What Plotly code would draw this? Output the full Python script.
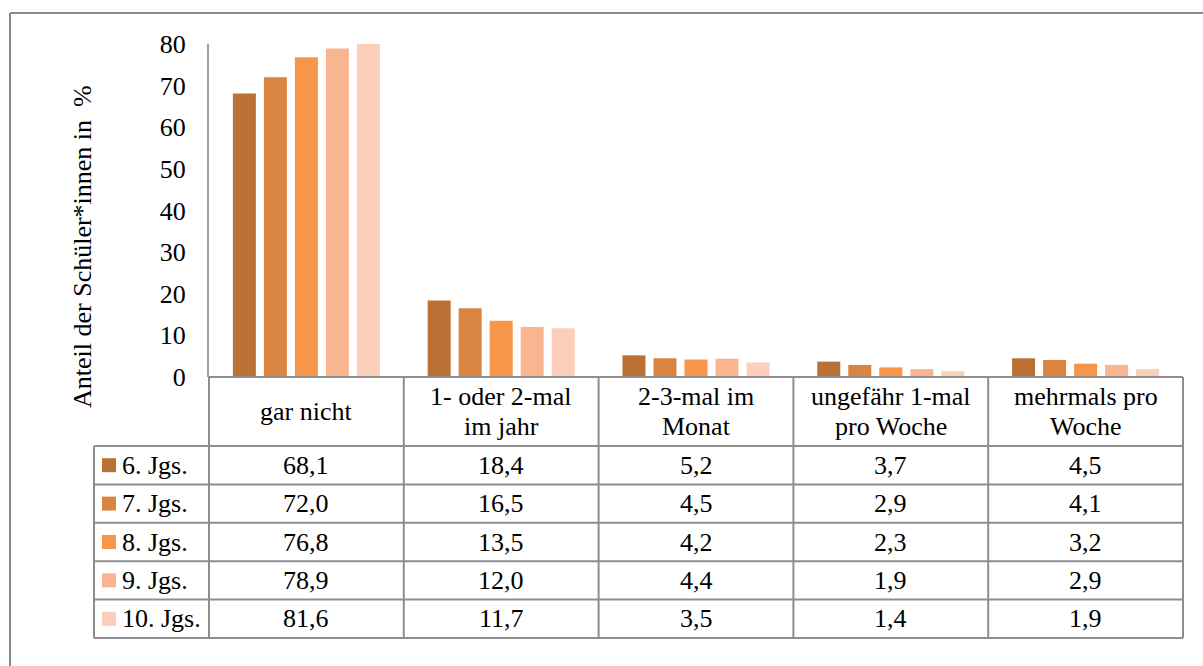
import plotly.graph_objects as go

categories = ["gar nicht", "1- oder 2-mal<br>im jahr", "2-3-mal im<br>Monat",
              "ungefähr 1-mal<br>pro Woche", "mehrmals pro<br>Woche"]
series_names = ["6. Jgs.", "7. Jgs.", "8. Jgs.", "9. Jgs.", "10. Jgs."]
jgs6 = [68.1, 18.4, 5.2, 3.7, 4.5]
jgs7 = [72.0, 16.5, 4.5, 2.9, 4.1]
jgs8 = [76.8, 13.5, 4.2, 2.3, 3.2]
jgs9 = [78.9, 12.0, 4.4, 1.9, 2.9]
jgs10 = [81.6, 11.7, 3.5, 1.4, 1.9]
series_values = [jgs6, jgs7, jgs8, jgs9, jgs10]
colors = ["#B97234", "#DA8442", "#F79648", "#F9B58F", "#FBCFB9"]
y_ticks = [0, 10, 20, 30, 40, 50, 60, 70, 80]
y_title = "Anteil der Schüler*innen in \u00a0%"

W, H = 1203, 666
FONT = "Liberation Serif, Times New Roman, serif"
FS = 26
GRID = "#8E8E8E"


def px(x):
    return x / W


def py(y):
    return 1 - y / H


# layout geometry (pixels)
plot_left, plot_right = 209, 1183
plot_top, plot_bottom = 44, 377
legend_left = 94
header_bottom = 446
row_h = (638 - 446) / 5

fig = go.Figure()
cat_keys = [c.replace("<br>", " ") for c in categories]
for name, vals, col in zip(series_names, series_values, colors):
    fig.add_trace(go.Bar(x=cat_keys, y=vals, name=name, marker=dict(color=col, line=dict(width=0)),
                         showlegend=False, hoverinfo="x+y+name"))

shapes = []
annotations = []
line = dict(color=GRID, width=2)

n = len(categories)
col_w = (plot_right - plot_left) / n
# header top line
shapes.append(dict(type="line", xref="paper", yref="paper", x0=px(plot_left), x1=px(plot_right),
                   y0=py(plot_bottom), y1=py(plot_bottom), line=line))
# vertical lines for category columns
for i in range(n + 1):
    x = plot_left + i * col_w
    shapes.append(dict(type="line", xref="paper", yref="paper", x0=px(x), x1=px(x),
                       y0=py(plot_bottom), y1=py(638), line=line))
# legend column left line
shapes.append(dict(type="line", xref="paper", yref="paper", x0=px(legend_left), x1=px(legend_left),
                   y0=py(header_bottom), y1=py(638), line=line))
# horizontal row lines
for r in range(len(series_names) + 1):
    y = header_bottom + r * row_h
    shapes.append(dict(type="line", xref="paper", yref="paper", x0=px(legend_left), x1=px(plot_right),
                       y0=py(y), y1=py(y), line=line))


def txt(x, y, s, anchor="center"):
    annotations.append(dict(xref="paper", yref="paper", x=px(x), y=py(y), text=s, showarrow=False,
                            xanchor=anchor, yanchor="middle",
                            font=dict(family=FONT, size=FS, color="#000000")))


# header texts (one annotation per line for tight line spacing)
hc = (plot_bottom + header_bottom) / 2
for i, c in enumerate(categories):
    parts = c.split("<br>")
    k = len(parts)
    for j, p in enumerate(parts):
        txt(plot_left + (i + 0.5) * col_w, hc + (j - (k - 1) / 2) * 30, p)
# rows
for r, (name, vals, col) in enumerate(zip(series_names, series_values, colors)):
    yc = header_bottom + (r + 0.5) * row_h
    shapes.append(dict(type="rect", xref="paper", yref="paper", x0=px(102), x1=px(116),
                       y0=py(yc - 7), y1=py(yc + 7), fillcolor=col, line=dict(width=0)))
    txt(120, yc, name, anchor="left")
    for i, v in enumerate(vals):
        txt(plot_left + (i + 0.5) * col_w, yc, f"{v:.1f}".replace(".", ","))

# y axis title
annotations.append(dict(xref="paper", yref="paper", x=px(82), y=py(247), text=y_title, textangle=-90,
                        showarrow=False, xanchor="center", yanchor="middle",
                        font=dict(family=FONT, size=FS, color="#000000")))

# outer border (top and left edges, inside the paper)
border = dict(color="#8A8A8A", width=2)
shapes.append(dict(type="line", xref="paper", yref="paper", x0=px(10), x1=1,
                   y0=py(13), y1=py(13), line=border))
shapes.append(dict(type="line", xref="paper", yref="paper", x0=px(10), x1=px(10),
                   y0=py(13), y1=0, line=border))

fig.update_layout(
    width=W, height=H, autosize=False,
    margin=dict(l=0, r=0, t=0, b=0, autoexpand=False),
    paper_bgcolor="white", plot_bgcolor="white",
    barmode="group", bargap=0.204, bargroupgap=0.258,
    font=dict(family=FONT, size=FS, color="#000000"),
    xaxis=dict(domain=[px(plot_left), px(plot_right)], showticklabels=False, showline=False,
               showgrid=False, zeroline=False, ticks="", automargin=False),
    yaxis=dict(domain=[py(plot_bottom), py(plot_top)], range=[0, 80], tickvals=y_ticks,
               showgrid=False, zeroline=False, showline=True, linecolor="#A0A0A0", linewidth=2,
               ticks="", ticklabelstandoff=16, automargin=False,
               tickfont=dict(family=FONT, size=FS, color="#000000")),
    shapes=shapes, annotations=annotations,
)

fig.write_html("out.html", config={"displayModeBar": False},
               post_script="document.body.style.margin='0';document.body.style.overflow='hidden';")
